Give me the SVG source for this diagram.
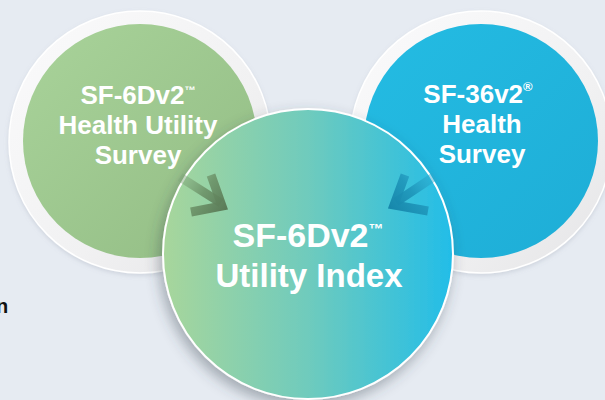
<svg xmlns="http://www.w3.org/2000/svg" width="605" height="400" viewBox="0 0 605 400">
  <defs>
    <style>
      .lbl { font-family: "Liberation Sans", Arial, sans-serif; font-weight: bold; fill: #ffffff; text-anchor: middle; }
      .ring { stroke: #ffffff; stroke-width: 1.5; }
    </style>
    <linearGradient id="ringGrad" x1="0" y1="0" x2="1" y2="1">
      <stop offset="0" stop-color="#fbfbfc"/>
      <stop offset="0.6" stop-color="#f1f1f2"/>
      <stop offset="1" stop-color="#e4e4e6"/>
    </linearGradient>
    <linearGradient id="greenGrad" x1="0" y1="0" x2="1" y2="1">
      <stop offset="0" stop-color="#a9d39a"/>
      <stop offset="1" stop-color="#92bc84"/>
    </linearGradient>
    <linearGradient id="blueGrad" x1="0" y1="0" x2="1" y2="1">
      <stop offset="0" stop-color="#24bce3"/>
      <stop offset="1" stop-color="#1eadd6"/>
    </linearGradient>
    <linearGradient id="centerGrad" x1="0" y1="0" x2="1" y2="0">
      <stop offset="0" stop-color="#a8d69b"/>
      <stop offset="0.5" stop-color="#6fcbbd"/>
      <stop offset="1" stop-color="#22bde8"/>
    </linearGradient>
    <linearGradient id="arrowL" gradientUnits="userSpaceOnUse" x1="180" y1="176" x2="226" y2="210">
      <stop offset="0" stop-color="#7fa479" stop-opacity="0.35"/>
      <stop offset="0.5" stop-color="#6a8f65" stop-opacity="0.85"/>
      <stop offset="1" stop-color="#5a7a57"/>
    </linearGradient>
    <linearGradient id="arrowR" gradientUnits="userSpaceOnUse" x1="434" y1="176" x2="392" y2="210">
      <stop offset="0" stop-color="#2aa6cc" stop-opacity="0.35"/>
      <stop offset="0.5" stop-color="#1d93b8" stop-opacity="0.85"/>
      <stop offset="1" stop-color="#1787ab"/>
    </linearGradient>
    <filter id="shadow" x="-20%" y="-20%" width="140%" height="150%">
      <feDropShadow dx="-3" dy="6" stdDeviation="7" flood-color="#3a4250" flood-opacity="0.4"/>
    </filter>
    <filter id="ringShadow" x="-20%" y="-20%" width="140%" height="140%">
      <feDropShadow dx="0" dy="2" stdDeviation="2" flood-color="#8a92a0" flood-opacity="0.25"/>
    </filter>
  </defs>

  <rect x="0" y="0" width="605" height="400" fill="#e6ebf2"/>

  <text x="-4" y="313" font-family="Liberation Sans, Arial, sans-serif" font-weight="bold" font-size="20" fill="#111111">n</text>

  <g id="node-sf6dv2-survey">
    <circle class="ring" cx="140" cy="142" r="131" fill="url(#ringGrad)" filter="url(#ringShadow)"/>
    <circle cx="140" cy="141" r="117" fill="url(#greenGrad)"/>
    <text class="lbl" font-size="26" x="138" y="104">SF-6Dv2<tspan font-size="11" dy="-10">™</tspan></text>
    <text class="lbl" font-size="26" x="138" y="134">Health Utility</text>
    <text class="lbl" font-size="26" x="138" y="164">Survey</text>
  </g>

  <g id="node-sf36v2-survey">
    <circle class="ring" cx="481" cy="142" r="131" fill="url(#ringGrad)" filter="url(#ringShadow)"/>
    <circle cx="481" cy="141" r="117" fill="url(#blueGrad)"/>
    <text class="lbl" font-size="26" x="478" y="103">SF-36v2<tspan font-size="13" dy="-12">®</tspan></text>
    <text class="lbl" font-size="26" x="482" y="133">Health</text>
    <text class="lbl" font-size="26" x="482" y="163">Survey</text>
  </g>

  <g id="node-utility-index">
    <circle cx="308" cy="254" r="145" fill="url(#centerGrad)" stroke="#ffffff" stroke-width="2" filter="url(#shadow)"/>
    <text class="lbl" font-size="34" x="308" y="247">SF-6Dv2<tspan font-size="15" dy="-13">™</tspan></text>
    <text class="lbl" font-size="33" x="309" y="287">Utility Index</text>
  </g>

  <g id="connectors" fill="none" stroke-width="9" stroke-linejoin="miter" stroke-linecap="butt">
    <g id="arrow-left" stroke="url(#arrowL)">
      <line x1="180" y1="177" x2="221" y2="203"/>
      <polyline points="211,175 222,206 191,212"/>
    </g>
    <g id="arrow-right" stroke="url(#arrowR)">
      <line x1="435" y1="176" x2="396" y2="202"/>
      <polyline points="405,175 394,205 428,211"/>
    </g>
  </g>
</svg>
